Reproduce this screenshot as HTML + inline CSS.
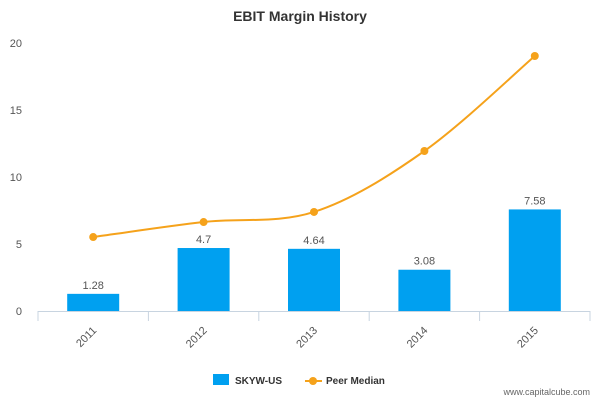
<!DOCTYPE html>
<html><head><meta charset="utf-8"><style>
body{margin:0;background:#fff;}
svg{display:block;font-family:"Liberation Sans",sans-serif;}
</style></head><body>
<svg id="chart" width="600" height="400">
<rect width="600" height="400" fill="#fff"/>
<text x="300" y="21" text-anchor="middle" font-size="14" font-weight="bold" fill="#333">EBIT Margin History</text>
<g id="grid"></g><g id="bars"></g><g id="line"></g><g id="xaxis"></g>
<g>
<rect x="213" y="374" width="16" height="11" fill="#00a0f0"/>
<text x="235" y="384" font-size="10" font-weight="bold" fill="#333">SKYW-US</text>
<line x1="305" y1="381" x2="322" y2="381" stroke="#f5a21b" stroke-width="2"/>
<circle cx="313" cy="381" r="4" fill="#f5a21b"/>
<text x="326" y="384" font-size="10" font-weight="bold" fill="#333">Peer Median</text>
</g>
<text x="590" y="395" text-anchor="end" font-size="9" fill="#666">www.capitalcube.com</text>
</svg>
<script>
const categories=["2011","2012","2013","2014","2015"];
const skyw=[1.28,4.7,4.64,3.08,7.58];
const skywLabels=["1.28","4.7","4.64","3.08","7.58"];
const peer=[5.52,6.64,7.39,11.94,19.03];
const yTicks=[0,5,10,15,20];
const NS="http://www.w3.org/2000/svg";
const x0=38,x1=590,yb=311,yt=43,ymax=20;
const band=(x1-x0)/categories.length;
const X=i=>x0+band*(i+0.5);
const Y=v=>yb-(v/ymax)*(yb-yt);
function mk(t,a,p){const e=document.createElementNS(NS,t);for(const k in a)e.setAttribute(k,a[k]);p.appendChild(e);return e;}
const g=document.getElementById('grid'),b=document.getElementById('bars'),l=document.getElementById('line'),xa=document.getElementById('xaxis');
yTicks.forEach(v=>{
 const t=mk('text',{x:22,y:Y(v)+4,'text-anchor':'end','font-size':11,fill:'#555'},g);
 t.textContent=v;
 
 
});
const ax=mk('line',{x1:x0,y1:yb+0.5,x2:x1,y2:yb+0.5,stroke:'#c8d4e0'},xa);


for(let i=0;i<=categories.length;i++){
 const tk=mk('line',{x1:x0+band*i,y1:yb,x2:x0+band*i,y2:yb+10,stroke:'#c8d4e0'},xa);
 
 
}
categories.forEach((c,i)=>{
 const t=mk('text',{x:X(i)+4,y:yb+20,'text-anchor':'end','font-size':11,fill:'#555',transform:`rotate(-45 ${X(i)+4} ${yb+20})`},xa);
 t.textContent=c;
 
 
 const bw=52;
 const r=mk('rect',{x:X(i)-bw/2,y:Y(skyw[i]),width:bw,height:yb-Y(skyw[i]),fill:'#00a0f0'},b);
 
 
 const lb=mk('text',{x:X(i),y:Y(skyw[i])-5,'text-anchor':'middle','font-size':11,fill:'#555'},b);
 lb.textContent=skywLabels[i];
 
 
});
const pts=peer.map((v,i)=>[X(i),Y(v)]);
let d=`M${pts[0][0]},${pts[0][1]}`;
for(let i=0;i<pts.length-1;i++){
 const p0=pts[Math.max(0,i-1)],p1=pts[i],p2=pts[i+1],p3=pts[Math.min(pts.length-1,i+2)];
 const k=1/6;
 d+=` C${p1[0]+(p2[0]-p0[0])*k},${p1[1]+(p2[1]-p0[1])*k} ${p2[0]-(p3[0]-p1[0])*k},${p2[1]-(p3[1]-p1[1])*k} ${p2[0]},${p2[1]}`;
}
const path=mk('path',{d:d,fill:'none',stroke:'#f5a21b','stroke-width':2},l);


pts.forEach((p,i)=>{
 const c=mk('circle',{cx:p[0],cy:p[1],r:4,fill:'#f5a21b'},l);
 
 
});
</script>
</body></html>
